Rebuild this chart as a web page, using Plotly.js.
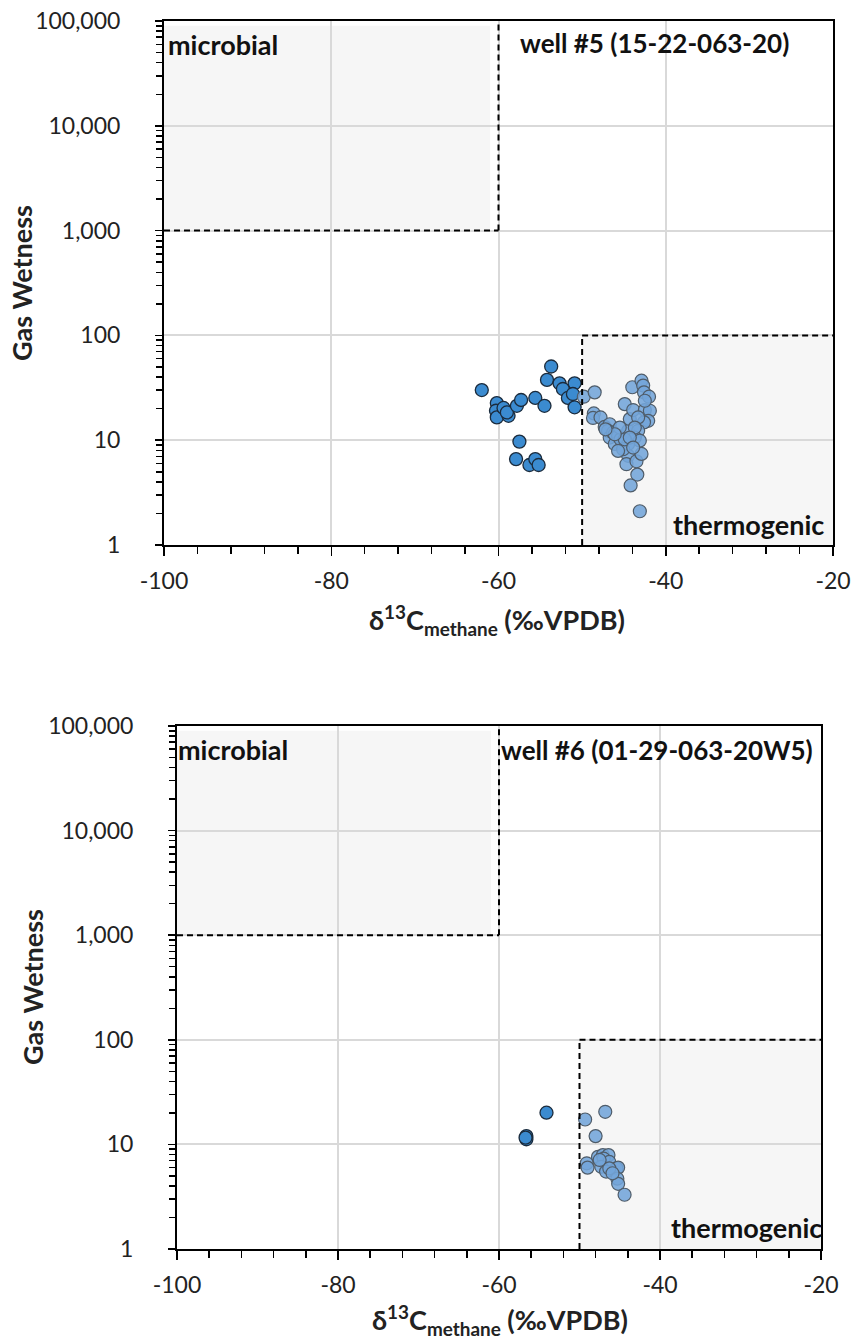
<!DOCTYPE html>
<html>
<head>
<meta charset="utf-8">
<script src="https://cdn.plot.ly/plotly-3.0.1.min.js"></script>
<style>html,body{margin:0;padding:0;background:#fff;}#chart{width:852px;height:1343px;}</style>
</head>
<body>
<div id="chart"></div>
<script>
// ---- Data: well #5 (top panel) ----
const well5DarkX = [-62.0,-60.2,-60.3,-60.2,-59.4,-58.8,-59.0,-57.8,-57.3,-55.6,-54.5,-54.2,-53.7,-52.7,-52.3,-51.7,-50.9,-50.9,-51.1,-57.5,-57.9,-56.3,-55.6,-55.2];
const well5DarkY = [30.1,22.6,19.1,16.5,20.3,17.1,18.4,21.3,24.2,25.3,21.3,37.6,50.5,34.9,30.8,25.3,20.6,34.9,27.6,9.7,6.6,5.8,6.6,5.8];
const well5LightX = [-49.8,-48.5,-48.6,-48.7,-47.8,-47.3,-46.7,-46.9,-46.7,-46.3,-46.1,-45.7,-45.4,-44.9,-44.5,-44.3,-43.9,-44.0,-42.9,-42.7,-42.6,-42.0,-42.5,-41.9,-42.1,-42.6,-43.3,-43.3,-43.7,-43.1,-44.5,-44.5,-44.7,-43.5,-42.9,-43.4,-44.2,-43.1,-45.1,-44.9,-45.5,-43.7,-44.3,-46.1,-47.2,-42.5,-43.9,-45.7];
const well5LightY = [26.0,28.6,18.0,16.3,16.5,13.4,14.2,12.3,10.6,11.8,9.2,11.0,10.2,22.1,12.3,15.9,19.4,32.0,37.0,33.2,28.6,26.0,19.4,19.1,15.3,14.8,16.5,12.3,10.6,9.9,9.2,7.1,5.9,6.3,7.4,4.7,3.7,2.1,8.2,10.2,13.2,13.2,10.6,11.4,12.7,23.8,8.5,7.9];

// ---- Data: well #6 (bottom panel) ----
const well6DarkX = [-56.6,-56.6,-56.7,-54.1];
const well6DarkY = [12.0,11.2,11.6,20.1];
const well6LightX = [-49.3,-46.8,-48.0,-49.1,-49.0,-47.7,-47.1,-46.4,-47.0,-46.3,-47.3,-46.7,-45.4,-45.2,-45.3,-45.2,-44.4,-46.3,-45.9,-47.5];
const well6LightY = [17.3,20.5,12.0,6.6,6.0,7.6,7.9,7.9,7.3,6.8,6.1,5.5,5.9,6.0,4.7,4.2,3.3,5.9,5.3,7.1];

// ---- Axis ticks / labels ----
const xTickVals = [-100,-80,-60,-40,-20];
const xTickText = ['-100','-80','-60','-40','-20'];
const yTickVals = [1,10,100,1000,10000,100000];
const yTickText = ['1','10','100','1,000','10,000','100,000'];
const panelLabels = ['well #5 (15-22-063-20)','well #6 (01-29-063-20W5)'];
const zoneLabels = ['microbial','thermogenic'];
const yTitle = 'Gas Wetness';
const xTitle = 'δ<sup>13</sup>C<sub>methane</sub> (‰VPDB)';

const W = 852, H = 1343;
const px = v => v / W;
const py = v => 1 - v / H;
const FONT = 'Lato, "Liberation Sans", sans-serif';

const darkMarker = {size: 13, color: '#3b8bd0', line: {color: '#1b2b3c', width: 1.3}};
const lightMarker = {size: 13, color: 'rgba(115,165,218,0.88)', line: {color: '#4f5c69', width: 1.2}};

const traces = [
  {x: well5DarkX, y: well5DarkY, xaxis: 'x', yaxis: 'y', mode: 'markers', type: 'scatter', marker: darkMarker, showlegend: false, cliponaxis: false},
  {x: well5LightX, y: well5LightY, xaxis: 'x', yaxis: 'y', mode: 'markers', type: 'scatter', marker: lightMarker, showlegend: false, cliponaxis: false},
  {x: well6DarkX, y: well6DarkY, xaxis: 'x2', yaxis: 'y2', mode: 'markers', type: 'scatter', marker: darkMarker, showlegend: false, cliponaxis: false},
  {x: well6LightX, y: well6LightY, xaxis: 'x2', yaxis: 'y2', mode: 'markers', type: 'scatter', marker: lightMarker, showlegend: false, cliponaxis: false}
];

function xAxis(domain, anchor) {
  return {
    domain: domain, anchor: anchor, range: [-100, -20], type: 'linear',
    tickvals: xTickVals, ticktext: xTickText,
    ticks: 'outside', ticklen: 9, tickwidth: 1.5, tickcolor: '#000',
    minor: {ticks: 'outside', ticklen: 7, tickwidth: 1.5, tickcolor: '#000', dtick: 4, showgrid: false},
    showline: true, linecolor: '#000', linewidth: 2, mirror: true,
    showgrid: true, gridcolor: '#d9d9d9', gridwidth: 2,
    zeroline: false, ticklabelstandoff: 5,
    tickfont: {family: FONT, size: 23, color: '#222'}
  };
}
function yAxis(domain, anchor) {
  return {
    domain: domain, anchor: anchor, type: 'log', range: [0, 5],
    tickvals: yTickVals, ticktext: yTickText,
    ticks: 'outside', ticklen: 7, tickwidth: 1.5, tickcolor: '#000',
    minor: {ticks: 'outside', ticklen: 6, tickwidth: 1.5, tickcolor: '#000', dtick: 'D1', showgrid: false},
    showline: true, linecolor: '#000', linewidth: 2, mirror: true,
    showgrid: true, gridcolor: '#d9d9d9', gridwidth: 2,
    zeroline: false, ticklabelstandoff: 30,
    tickfont: {family: FONT, size: 23, color: '#222'}
  };
}

const dash = '6px,4px';
function zoneShapes(xr, yr) {
  return [
    {type: 'rect', xref: xr, yref: yr, x0: -100, x1: -61, y0: 1000, y1: 90000, fillcolor: '#f6f6f6', line: {width: 0}, layer: 'below'},
    {type: 'rect', xref: xr, yref: yr, x0: -50, x1: -20, y0: 1, y1: 100, fillcolor: '#f6f6f6', line: {width: 0}, layer: 'below'},
    {type: 'line', xref: xr, yref: yr, x0: -100, x1: -60, y0: 1000, y1: 1000, line: {color: '#000', width: 2, dash: dash}},
    {type: 'line', xref: xr, yref: yr, x0: -60, x1: -60, y0: 1000, y1: 100000, line: {color: '#000', width: 2, dash: dash}},
    {type: 'line', xref: xr, yref: yr, x0: -50, x1: -20, y0: 100, y1: 100, line: {color: '#000', width: 2, dash: dash}},
    {type: 'line', xref: xr, yref: yr, x0: -50, x1: -50, y0: 1, y1: 100, line: {color: '#000', width: 2, dash: dash}}
  ];
}

const zoneFont = {family: FONT, size: 27, color: '#111', weight: 'bold'};
const wellFont = {family: FONT, size: 26, color: '#111', weight: 'bold'};
const titleFont = {family: FONT, size: 27, color: '#222', weight: 'bold'};
function ann(text, x, y, xanchor, font, extra) {
  return Object.assign({text: text, xref: 'paper', yref: 'paper', x: px(x), y: py(y), xanchor: xanchor, yanchor: 'middle', showarrow: false, font: font}, extra || {});
}

const annotations = [
  ann('<b>' + zoneLabels[0] + '</b>', 166, 45, 'left', zoneFont),
  ann('<b>' + panelLabels[0] + '</b>', 518, 43, 'left', wellFont),
  ann('<b>' + zoneLabels[1] + '</b>', 826, 524, 'right', zoneFont),
  ann('<b>' + yTitle + '</b>', 22, 283, 'center', titleFont, {textangle: -90}),
  ann('<b>' + xTitle + '</b>', 497, 620, 'center', titleFont),
  ann('<b>' + zoneLabels[0] + '</b>', 176, 749, 'left', zoneFont),
  ann('<b>' + panelLabels[1] + '</b>', 499, 750, 'left', wellFont),
  ann('<b>' + zoneLabels[1] + '</b>', 824, 1227, 'right', zoneFont),
  ann('<b>' + yTitle + '</b>', 32, 987, 'center', titleFont, {textangle: -90}),
  ann('<b>' + xTitle + '</b>', 500, 1320, 'center', titleFont)
];

const layout = {
  width: W, height: H,
  margin: {l: 0, r: 0, t: 0, b: 0},
  paper_bgcolor: '#fff', plot_bgcolor: '#fff',
  showlegend: false,
  xaxis: xAxis([px(164), px(833)], 'y'),
  yaxis: yAxis([py(545), py(21)], 'x'),
  xaxis2: xAxis([px(177), px(821)], 'y2'),
  yaxis2: yAxis([py(1249), py(726)], 'x2'),
  shapes: zoneShapes('x', 'y').concat(zoneShapes('x2', 'y2')),
  annotations: annotations
};

Plotly.newPlot('chart', traces, layout, {displayModeBar: false, staticPlot: true});
</script>
</body>
</html>
